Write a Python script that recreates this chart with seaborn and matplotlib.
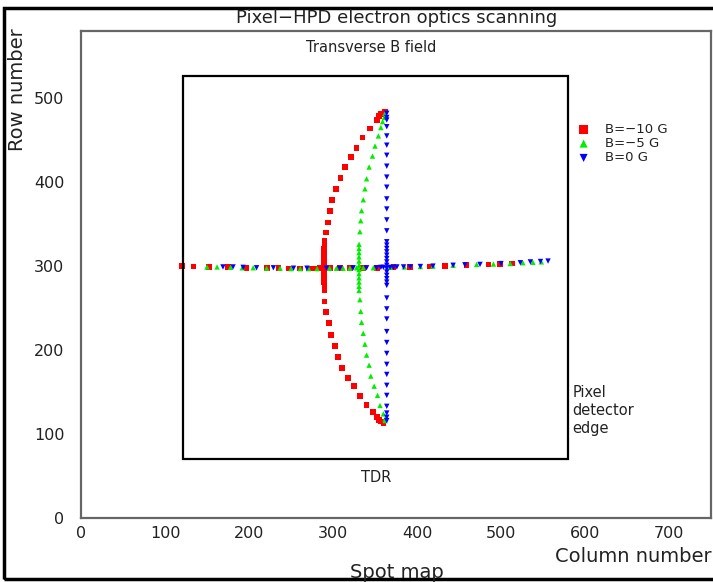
import pandas as pd
import seaborn as sns
from matplotlib import pyplot as plt
from matplotlib.patches import Rectangle
from matplotlib.ticker import MultipleLocator

# spot positions (column, row)
red_hx = [120, 134, 152, 175, 197, 221, 235, 247, 261, 271, 279, 284, 296, 308, 320, 336, 352, 372, 392, 415, 433, 459, 485, 499, 513]
red_hy = [300.5, 299.5, 299, 298.5, 298, 297.5, 297.5, 297, 297, 297, 297, 297.5, 297.5, 297.5, 297.5, 298, 298, 298.5, 299, 299.5, 300, 301, 302, 302.5, 303]
red_vx = [362, 357, 355, 352, 344, 335, 328, 321, 314, 309, 304, 299, 296, 294, 292, 290, 290, 289, 289, 289, 289, 289, 289, 289, 289, 289, 290, 290,
          290, 292, 295, 298, 302, 306, 311, 318, 325, 332, 340, 348, 352, 355, 357, 360]
red_vy = [484, 481, 479, 474, 464, 453, 441, 430, 418, 405, 392, 379, 366, 352, 340, 330, 326, 321, 316, 311, 306, 301, 296, 291, 286, 281, 276, 271,
          258, 245, 232, 218, 205, 192, 179, 167, 157, 145, 135, 126, 120, 117, 115, 113]

green_hx = [150, 162, 178, 192, 205, 221, 237, 250, 261, 271, 281, 296, 304, 312, 320, 328, 336, 348, 368, 385, 404, 419, 443, 471, 491, 511, 526, 538, 548]
green_hy = [299, 299, 298.5, 298, 298, 297.5, 297.5, 297, 297, 297, 297, 297.5, 297.5, 297.5, 297.5, 298, 298, 298, 298.5, 299, 299.5, 300, 301, 302, 302.5, 303, 304, 304.5, 305]
green_vx = [362, 361, 359, 357, 354, 350, 347, 343, 340, 338, 336, 334, 333, 332, 331, 331, 331, 331, 331, 331, 331, 331, 331, 331, 331, 331,
            332, 333, 334, 336, 338, 340, 343, 345, 349, 353, 356, 360, 362, 362]
green_vy = [482, 477, 472, 465, 455, 443, 431, 418, 404, 392, 379, 366, 354, 341, 326, 321, 316, 311, 306, 301, 296, 291, 286, 281, 276, 271,
            260, 246, 233, 220, 207, 194, 182, 169, 157, 146, 134, 124, 118, 116]

blue_hx = [169, 181, 193, 209, 229, 253, 269, 292, 308, 324, 340, 352, 357, 360, 368, 372, 376, 384, 392, 404, 419, 443, 457, 475, 500, 523, 535, 547, 556]
blue_hy = [299, 299, 298.5, 298, 298, 297.5, 297.5, 297.5, 297.5, 298, 298, 298, 298.5, 298.5, 298.5, 298.5, 299, 299, 299, 299.5, 300, 301, 301.5, 302, 303, 304, 305, 305.5, 306]
blue_vx = [364] * 42
blue_vy = [482, 477, 474, 466, 455, 444, 432, 419, 406, 394, 380, 368, 355, 342, 329, 325, 321, 317, 313, 309, 305, 301, 297, 293, 289, 285, 281, 277,
           262, 249, 237, 222, 209, 196, 183, 171, 158, 146, 133, 125, 120, 116]

labels = ['B=\u221210 G', 'B=\u22125 G', 'B=0 G']
colors = ['#ff0000', '#00ee00', '#0000ff']
markers = ['s', '^', 'v']
sizes = [17, 15, 15]

# TDR detector frame (column, row)
tdr_x0, tdr_y0, tdr_x1, tdr_y1 = 122, 70, 580, 526

sns.set_style('white')
plt.rcParams['font.family'] = ['DejaVu Sans']

fig = plt.figure(figsize=(7.13, 5.82), dpi=100)
ax = fig.add_axes([81/713, 64/582, 630/713, 487/582])

series = [(red_hx + red_vx, red_hy + red_vy),
          (green_hx + green_vx, green_hy + green_vy),
          (blue_hx + blue_vx, blue_hy + blue_vy)]
for (xs, ys), lab, c, m, sz in zip(series, labels, colors, markers, sizes):
    df = pd.DataFrame({'col': xs, 'row': ys})
    sns.scatterplot(data=df, x='col', y='row', color=c, marker=m, s=sz,
                    edgecolor='none', linewidth=0, label=lab, ax=ax)

ax.add_patch(Rectangle((tdr_x0, tdr_y0), tdr_x1 - tdr_x0, tdr_y1 - tdr_y0,
                       fill=False, edgecolor='black', lw=1.6))

ax.set_xlim(0, 750)
ax.set_ylim(0, 580)
ax.xaxis.set_major_locator(MultipleLocator(100))
ax.xaxis.set_minor_locator(MultipleLocator(20))
ax.yaxis.set_major_locator(MultipleLocator(100))
ax.yaxis.set_minor_locator(MultipleLocator(20))
ax.tick_params(which='both', direction='in', color='#555555', labelsize=11.5, labelcolor='#222222')
ax.tick_params(which='major', length=6, width=1)
ax.tick_params(which='minor', length=3, width=1)
ax.tick_params(axis='y', pad=12)
ax.tick_params(axis='x', pad=6)
for s in ax.spines.values():
    s.set_color('#666666')
    s.set_linewidth(1.6)
ax.set_xlabel('')
ax.set_ylabel('')

ax.text(346, 560, 'Transverse B field', ha='center', va='center', fontsize=10.5, color='#222222')
ax.text(352, 48, 'TDR', ha='center', va='center', fontsize=10.5, color='#222222')
ax.text(585, 158, 'Pixel\ndetector\nedge', ha='left', va='top', fontsize=10.5,
        color='#222222', linespacing=1.25)

leg = ax.legend(loc='upper left', bbox_to_anchor=(0.758, 0.836), frameon=False,
                fontsize=9.5, handletextpad=0.6, labelspacing=0.1, markerscale=1.5)
for t in leg.get_texts():
    t.set_color('#222222')

fig.text(397/713, 1 - 18/582, 'Pixel\u2212HPD electron optics scanning', ha='center', va='center',
         fontsize=13, color='#222222')
fig.text(18/713, 1 - 28/582, 'Row number', rotation=90, ha='center', va='top', fontsize=14, color='#222222')
fig.text(712/713, 1 - 557/582, 'Column number', ha='right', va='center', fontsize=14, color='#222222')
fig.text(397/713, 1 - 573/582, 'Spot map', ha='center', va='center', fontsize=14, color='#222222')

fig.patches.append(Rectangle((4/713, 3/582), 720/713, 571/582, transform=fig.transFigure,
                             fill=False, edgecolor='black', lw=2.5, figure=fig))

fig.savefig('out.png', dpi=100)
